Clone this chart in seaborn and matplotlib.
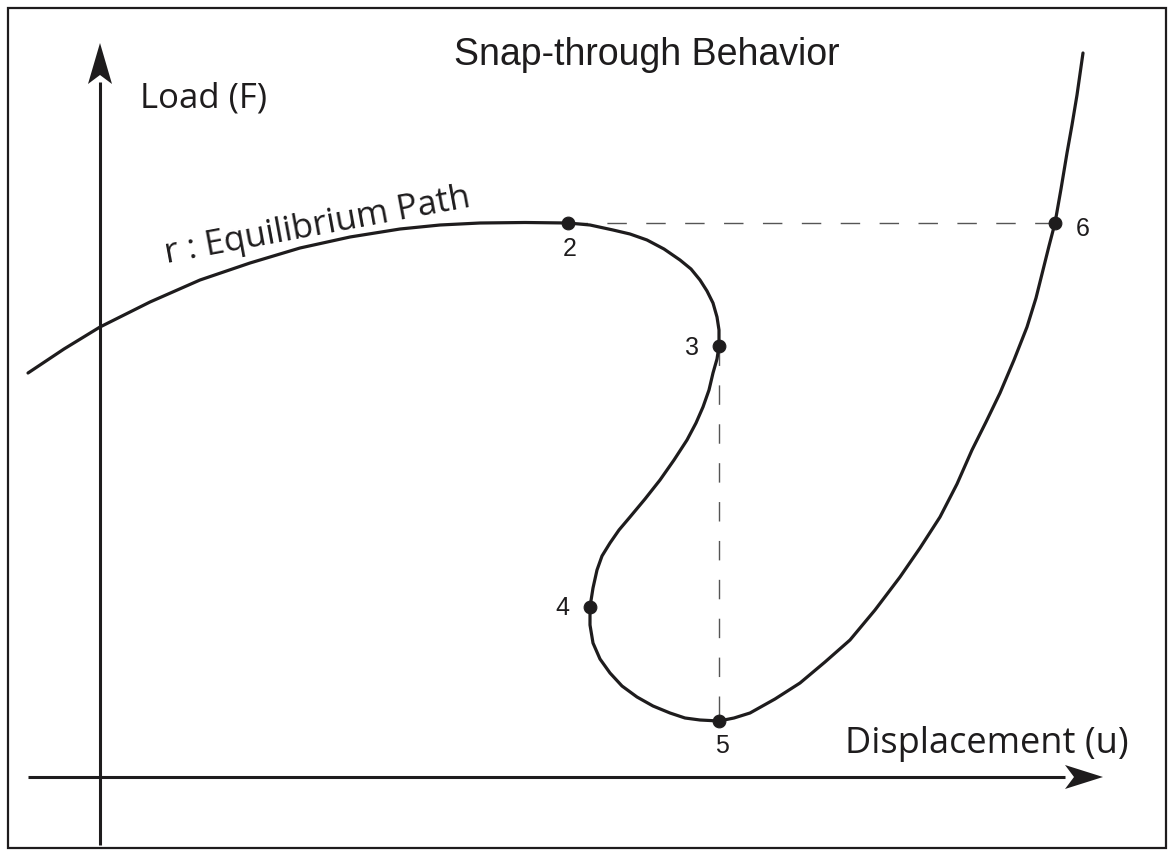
import numpy as np
import pandas as pd
import matplotlib
matplotlib.use("Agg")
import matplotlib.pyplot as plt
from matplotlib.patches import Polygon, Rectangle
import seaborn as sns

# ---- data (displacement u, load F) ----
path_u = [-0.72, -0.36, 0.00, 0.50, 1.00, 1.50, 2.00, 2.50, 3.00, 3.40, 3.80, 4.25,
          4.68, 4.90, 5.13, 5.30, 5.47, 5.64, 5.80, 5.91, 6.00, 6.07, 6.13, 6.17,
          6.19, 6.19, 6.17, 6.13, 6.09, 6.03, 5.96, 5.87, 5.74, 5.60, 5.45, 5.30,
          5.19, 5.10, 5.02, 4.97, 4.93, 4.90, 4.90, 4.93, 5.00, 5.10, 5.22, 5.37,
          5.53, 5.70, 5.85, 6.00, 6.19, 6.34, 6.50, 6.75, 7.00, 7.25, 7.50, 7.75,
          8.00, 8.20, 8.40, 8.57, 8.72, 8.86, 9.00, 9.14, 9.27, 9.36, 9.43, 9.49,
          9.55, 9.61, 9.67, 9.72, 9.77, 9.83]
path_F = [4.04, 4.28, 4.50, 4.75, 4.97, 5.14, 5.29, 5.40, 5.48, 5.52, 5.54, 5.545,
          5.54, 5.52, 5.47, 5.43, 5.37, 5.28, 5.17, 5.08, 4.97, 4.86, 4.74, 4.60,
          4.47, 4.31, 4.18, 4.04, 3.87, 3.70, 3.54, 3.37, 3.17, 2.97, 2.78, 2.60,
          2.47, 2.34, 2.21, 2.07, 1.89, 1.70, 1.52, 1.34, 1.18, 1.04, 0.91, 0.80,
          0.71, 0.64, 0.59, 0.57, 0.56, 0.59, 0.64, 0.78, 0.94, 1.15, 1.37, 1.67,
          2.00, 2.29, 2.60, 2.93, 3.27, 3.55, 3.84, 4.17, 4.50, 4.79, 5.07, 5.31,
          5.54, 5.88, 6.24, 6.52, 6.82, 7.24]

point_labels = ["2", "3", "4", "5", "6"]
point_u = [4.68, 6.19, 4.90, 6.19, 9.55]
point_F = [5.54, 4.31, 1.70, 0.56, 5.54]

title = "Snap-through Behavior"
y_label = "Load (F)"
x_label = "Displacement (u)"
path_label = "r : Equilibrium Path"

sns.set_theme(style="white")
plt.rcParams["font.family"] = ["Open Sans", "DejaVu Sans"]

fig = plt.figure(figsize=(11.74, 8.56), dpi=100)
ax = fig.add_axes([0, 0, 1, 1])
ax.set_xlim(-1.00, 10.74)
ax.set_ylim(-0.79, 7.77)

ink = "#1e1c1d"

# frame
fig.patches.append(Rectangle((8 / 1174, 8 / 856), 1158 / 1174, 840 / 856,
                             transform=fig.transFigure, fill=False,
                             edgecolor=ink, linewidth=1.6))

# axes lines
ax.plot([0, 0], [-0.68, 6.95], color=ink, lw=2.2, solid_capstyle="butt")
ax.plot([-0.72, 9.65], [0, 0], color=ink, lw=2.2, solid_capstyle="butt")
# arrow heads (stealth shape)
ax.add_patch(Polygon([[0, 7.34], [0.12, 6.93], [0, 7.02], [-0.12, 6.93]],
                     closed=True, color=ink, lw=0))
ax.add_patch(Polygon([[10.03, 0], [9.65, 0.12], [9.74, 0], [9.65, -0.12]],
                     closed=True, color=ink, lw=0))

# dashed guide lines
ax.plot([point_u[0], point_u[4]], [point_F[0], point_F[4]], color="#555555",
        lw=1.0, dashes=(14, 14), zorder=1)
ax.plot([point_u[1], point_u[3]], [point_F[1], point_F[3]], color="#555555",
        lw=1.0, dashes=(14, 14), zorder=1)

# equilibrium path
df = pd.DataFrame({"u": path_u, "F": path_F})
sns.lineplot(data=df, x="u", y="F", sort=False, estimator=None, ax=ax,
             color=ink, lw=2.3, zorder=3, solid_joinstyle="round")

# points
pts = pd.DataFrame({"u": point_u, "F": point_F})
sns.scatterplot(data=pts, x="u", y="F", ax=ax, color=ink, s=85,
                edgecolor=ink, zorder=4)
ax.axis("off")

# point labels
offsets = {"2": (0.02, -0.26), "3": (-0.27, -0.02), "4": (-0.28, -0.01),
           "5": (0.03, -0.25), "6": (0.28, -0.06)}
for lab, u, F in zip(point_labels, point_u, point_F):
    dx, dy = offsets[lab]
    ax.text(u + dx, F + dy, lab, ha="center", va="center", fontsize=18,
            family=["Liberation Sans", "DejaVu Sans"], color=ink)

ax.text(5.47, 7.22, title, ha="center", va="center", fontsize=27,
        family=["Liberation Sans", "DejaVu Sans"], color=ink)
ax.text(0.40, 6.69, y_label, ha="left", va="baseline", fontsize=25, color=ink)
ax.text(7.45, 0.24, x_label, ha="left", va="baseline", fontsize=26, color=ink)
ax.text(0.67, 5.14, path_label, ha="left", va="baseline", fontsize=25,
        rotation=10.5, rotation_mode="anchor", color=ink)

fig.savefig("out.png", dpi=100)
